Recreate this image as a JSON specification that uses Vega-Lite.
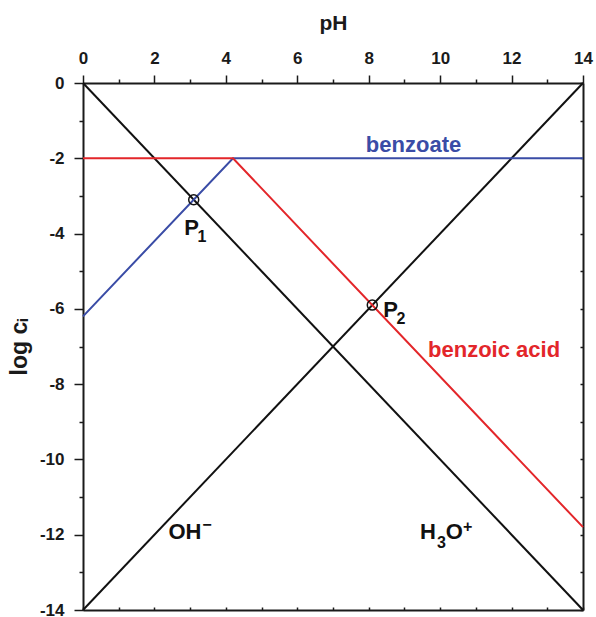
{
  "$schema": "https://vega.github.io/schema/vega-lite/v6.json",
  "width": 500,
  "height": 527,
  "autosize": {"type": "none"},
  "padding": {"left": 83, "top": 83, "right": 13, "bottom": 7},
  "config": {
    "view": {"stroke": null},
    "font": "Liberation Sans",
    "axis": {
      "grid": false,
      "labelFlush": false,
      "labelOverlap": false,
      "labelFont": "Liberation Sans",
      "labelFontWeight": "bold",
      "labelFontSize": 17,
      "labelColor": "#1a1a1a",
      "labelExpr": "replace(datum.label, '−', '-')",
      "titleFont": "Liberation Sans",
      "titleFontWeight": "bold",
      "titleColor": "#1a1a1a",
      "domainColor": "#1a1a1a",
      "domainWidth": 2,
      "tickColor": "#1a1a1a",
      "tickWidth": 1.5
    }
  },
  "datasets": {
    "lines": [
      {"series": "H3O+", "pH": 0, "logc": 0},
      {"series": "H3O+", "pH": 14, "logc": -14},
      {"series": "OH-", "pH": 0, "logc": -14},
      {"series": "OH-", "pH": 14, "logc": 0},
      {"series": "benzoate", "pH": 0, "logc": -6.2},
      {"series": "benzoate", "pH": 4.2, "logc": -2},
      {"series": "benzoate", "pH": 14, "logc": -2},
      {"series": "benzoic acid", "pH": 0, "logc": -2},
      {"series": "benzoic acid", "pH": 4.2, "logc": -2},
      {"series": "benzoic acid", "pH": 14, "logc": -11.8}
    ],
    "points": [
      {"name": "P1", "pH": 3.1, "logc": -3.1},
      {"name": "P2", "pH": 8.1, "logc": -5.9}
    ],
    "labels": [
      {"series": "benzoate", "part": "main", "text": "benzoate", "pH": 9.255, "logc": -1.65},
      {"series": "benzoic acid", "part": "main", "text": "benzoic acid", "pH": 11.51, "logc": -7.09},
      {"series": "P", "part": "main", "text": "P", "pH": 3.04, "logc": -3.84},
      {"series": "P", "part": "sub", "text": "1", "pH": 3.33, "logc": -4.08},
      {"series": "P", "part": "main", "text": "P", "pH": 8.61, "logc": -6.04},
      {"series": "P", "part": "sub", "text": "2", "pH": 8.9, "logc": -6.27},
      {"series": "OH-", "part": "main", "text": "OH", "pH": 2.856, "logc": -11.94},
      {"series": "OH-", "part": "sub", "text": "−", "pH": 3.472, "logc": -11.74},
      {"series": "H3O+", "part": "main", "text": "H", "pH": 9.66, "logc": -11.94},
      {"series": "H3O+", "part": "sub", "text": "3", "pH": 10.04, "logc": -12.22},
      {"series": "H3O+", "part": "main", "text": "O", "pH": 10.4, "logc": -11.94},
      {"series": "H3O+", "part": "sub", "text": "+", "pH": 10.77, "logc": -11.8}
    ]
  },
  "layer": [
    {
      "data": {"name": "lines"},
      "mark": {"type": "line", "strokeWidth": 2},
      "encoding": {
        "x": {
          "field": "pH", "type": "quantitative",
          "scale": {"domain": [0, 14], "nice": false, "zero": false},
          "axis": {"orient": "top", "values": [0, 2, 4, 6, 8, 10, 12, 14], "tickSize": 8, "labelPadding": 8, "title": "pH", "titleFontSize": 21, "titlePadding": 16}
        },
        "y": {
          "field": "logc", "type": "quantitative",
          "scale": {"domain": [-14, 0], "nice": false, "zero": false},
          "axis": {"orient": "left", "values": [0, -2, -4, -6, -8, -10, -12, -14], "tickSize": 9, "labelPadding": 10, "title": "log cᵢ", "titleFontSize": 23, "titlePadding": 8}
        },
        "color": {
          "field": "series", "type": "nominal",
          "scale": {"domain": ["H3O+", "OH-", "benzoate", "benzoic acid", "P"], "range": ["#111111", "#111111", "#3a4ca6", "#e3262a", "#111111"]},
          "legend": null
        },
        "detail": {"field": "series"}
      }
    },
    {
      "data": {"name": "points"},
      "mark": {"type": "point", "shape": "circle", "filled": false, "size": 100, "stroke": "#111111", "strokeWidth": 1.5, "opacity": 1},
      "encoding": {
        "x": {
          "field": "pH", "type": "quantitative",
          "axis": {"orient": "top", "values": [1, 3, 5, 7, 9, 11, 13], "tickSize": 4, "labels": false, "domain": false, "title": null}
        },
        "y": {
          "field": "logc", "type": "quantitative",
          "axis": {"orient": "left", "values": [-1, -3, -5, -7, -9, -11, -13], "tickSize": 4, "labels": false, "domain": false, "title": null}
        }
      }
    },
    {
      "data": {"name": "labels"},
      "transform": [{"filter": "datum.part === 'main'"}],
      "mark": {"type": "text", "font": "Liberation Sans", "fontWeight": "bold", "fontSize": 22, "align": "center", "baseline": "middle"},
      "encoding": {
        "x": {
          "field": "pH", "type": "quantitative",
          "axis": {"orient": "bottom", "values": [0, 1, 2, 3, 4, 5, 6, 7, 8, 9, 10, 11, 12, 13, 14], "tickSize": -3, "labels": false, "title": null}
        },
        "y": {
          "field": "logc", "type": "quantitative",
          "axis": {"orient": "right", "values": [0, -1, -2, -3, -4, -5, -6, -7, -8, -9, -10, -11, -12, -13, -14], "tickSize": -3, "labels": false, "title": null}
        },
        "text": {"field": "text"},
        "color": {"field": "series", "type": "nominal", "legend": null}
      }
    },
    {
      "data": {"name": "labels"},
      "transform": [{"filter": "datum.part === 'sub'"}],
      "mark": {"type": "text", "font": "Liberation Sans", "fontWeight": "bold", "fontSize": 16, "align": "center", "baseline": "middle"},
      "encoding": {
        "x": {"field": "pH", "type": "quantitative", "axis": null},
        "y": {"field": "logc", "type": "quantitative", "axis": null},
        "text": {"field": "text"},
        "color": {"field": "series", "type": "nominal", "legend": null}
      }
    }
  ],
  "resolve": {"axis": {"x": "independent", "y": "independent"}}
}
